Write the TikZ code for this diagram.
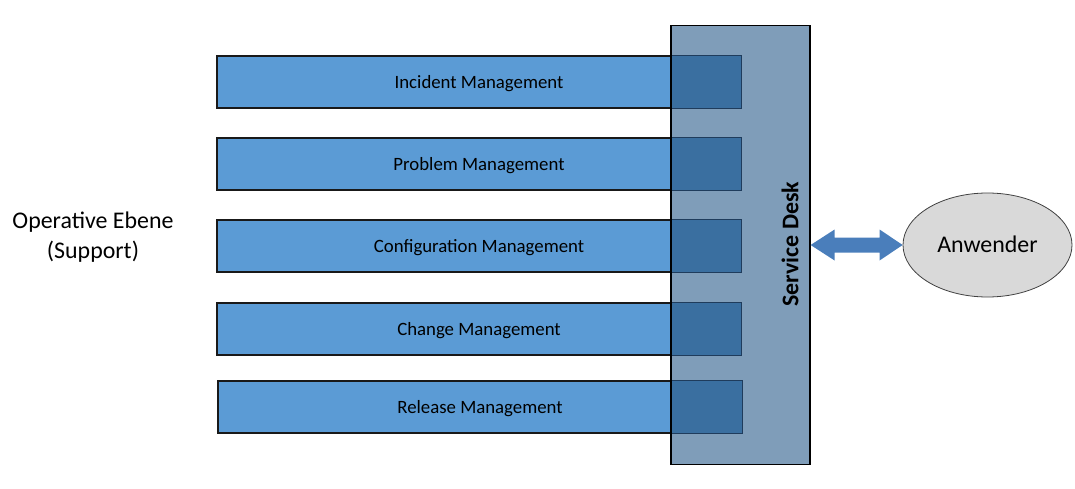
\documentclass[tikz,border=0pt]{standalone}
\usepackage{fontspec}
\setmainfont{Carlito}
\usetikzlibrary{shapes.geometric,calc}
\definecolor{barblue}{HTML}{5B9BD5}
\definecolor{ovblue}{HTML}{3A6FA0}
\definecolor{ovline}{HTML}{1F3C5C}
\definecolor{sdfill}{HTML}{7F9DB9}
\definecolor{arrblue}{HTML}{4A7EBB}
\definecolor{anwfill}{HTML}{D9D9D9}
\tikzset{
  barbox/.style={draw=black!90, line width=1.3pt, fill=barblue, minimum width=524pt, minimum height=52pt, inner sep=0pt, text height=12.1pt, text depth=0pt, font=\fontsize{18.8}{22}\selectfont},
  sdbox/.style={draw=black, line width=1.6pt, minimum width=137pt, minimum height=437pt, inner sep=0pt},
  sdlabel/.style={rotate=90, font=\fontsize{23.9}{28}\selectfont\bfseries},
  userell/.style={ellipse, draw=black!75, line width=0.8pt, fill=anwfill, minimum width=169pt, minimum height=104pt, inner sep=0pt, text height=15.4pt, text depth=0pt, font=\fontsize{23.9}{28}\selectfont},
  sidelabel/.style={align=center, font=\fontsize{23.9}{29.5}\selectfont},
  dblarrow/.style={fill=arrblue}
}
\begin{document}
\begin{tikzpicture}[x=1pt,y=-1pt]
\useasboundingbox (0,0) rectangle (1075,489);
% bars
\node[barbox] (inc) at (479,82) {Incident Management};
\node[barbox] (prob) at (479,164) {Problem Management};
\node[barbox] (conf) at (479,246) {Configuration Management};
\node[barbox] (chg) at (479,329) {Change Management};
\node[barbox] (rel) at (480,407) {Release Management};
% service desk fill
\node[sdbox, draw=none, fill=sdfill] (sd) at (740.5,245) {};
% overlaps
\begin{scope}
\clip (sd.south west) rectangle (sd.north east);
\foreach \b in {inc,prob,conf,chg,rel}{
  \fill[ovblue] (\b.south west) rectangle (\b.north east);
  \draw[ovline, line width=1.3pt] (\b.south west) rectangle (\b.north east);
}
\end{scope}
\draw[black, line width=1.6pt] (sd.south west) rectangle (sd.north east);
\node[sdlabel] (sdl) at (790,244) {Service Desk};
% user
\node[userell] (anw) at (987.5,245) {Anwender};
% double arrow
\coordinate (a1) at (sd.east |- anw.west);
\coordinate (a2) at (anw.west);
\fill[dblarrow] ($(a1)+(0.8,0)$) -- ++(24,-15.5) -- ++(0,8) -- ($(a2)+(-23,-7.5)$) -- ++(0,-8) -- (a2) -- ++(-23,15.5) -- ++(0,-8) -- ($(a1)+(24.8,7.5)$) -- ++(0,8) -- cycle;
% side label
\node[sidelabel] (op) at (93,237) {Operative Ebene\\(Support)};
\end{tikzpicture}
\end{document}
